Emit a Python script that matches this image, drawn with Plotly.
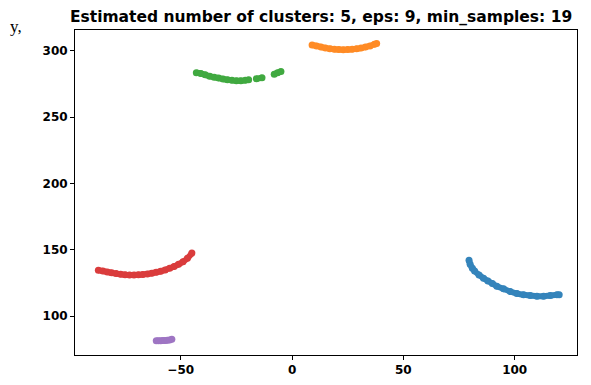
import plotly.graph_objects as go

# cluster 0 (blue)
blue_x = [79.5, 80, 81, 82, 84, 86, 88, 90, 92, 95, 98, 101, 104, 107, 110, 113, 116, 119, 120]
blue_y = [142, 139, 136, 134, 131, 128.5, 126.5, 124.5, 122.5, 120.5, 118.5, 117, 116, 115.5, 115, 115, 115.5, 116, 116]
# cluster 1 (orange)
orange_x = [9, 11, 13, 15, 17, 19, 21, 23, 25, 27, 29, 31, 33, 35, 37, 38]
orange_y = [304.5, 303.8, 303, 302.3, 301.7, 301.2, 301, 300.9, 301, 301.2, 301.6, 302.2, 303, 303.8, 305, 305.6]
# cluster 2 (green) — None marks gaps in the arc
green_x = [-43, -41, -39, -37, -35, -33, -31, -29, -27, -25, -23, -21, -19.5, None, -16, -13.5, None, -8, -6.5, -5]
green_y = [283.5, 283, 282, 281, 280.2, 279.5, 278.8, 278.2, 277.8, 277.6, 277.6, 277.8, 278.2, None, 279, 279.8, None, 282.5, 283.5, 284.5]
# cluster 3 (red)
red_x = [-87, -85, -83, -81, -79, -77, -75, -73, -71, -69, -67, -65, -63, -61, -59, -57, -55, -53, -51, -49, -47, -45]
red_y = [134.5, 134, 133.3, 132.6, 132, 131.5, 131.2, 131, 131, 131.1, 131.4, 131.8, 132.3, 133, 133.8, 134.8, 136, 137.4, 139, 141, 143.5, 147.5]
# cluster 4 (purple)
purple_x = [-61, -60, -59, -58, -57, -56, -55, -54]
purple_y = [81.3, 81.3, 81.4, 81.5, 81.6, 81.8, 82, 82.5]

x_ticks = [-50, 0, 50, 100]
x_labels = ["−50", "0", "50", "100"]
y_ticks = [100, 150, 200, 250, 300]

clusters = [
    (blue_x, blue_y, "#1f77b4"),
    (orange_x, orange_y, "#ff7f0e"),
    (green_x, green_y, "#2ca02c"),
    (red_x, red_y, "#d62728"),
    (purple_x, purple_y, "#9467bd"),
]

fig = go.Figure()
for xs, ys, c in clusters:
    fig.add_trace(go.Scatter(
        x=xs, y=ys, mode="lines+markers", connectgaps=False,
        line=dict(color=c, width=6, shape="spline"),
        marker=dict(color=c, size=7),
        opacity=0.9, showlegend=False, hoverinfo="skip"))

axis_common = dict(
    showgrid=False, zeroline=False, showline=True, linecolor="black", linewidth=1,
    mirror=True, ticks="outside", ticklen=4, tickcolor="black", tickwidth=1,
    automargin=False,
    tickfont=dict(family="DejaVu Sans", size=12, color="black", weight="bold"),
)
fig.update_xaxes(range=[-97.5, 128], tickvals=x_ticks, ticktext=x_labels, **axis_common)
fig.update_yaxes(range=[70.6, 315.8], tickvals=y_ticks, **axis_common)

# the page adds an 8px body margin, so the figure is 8px smaller in each direction
fig.update_layout(
    width=583, height=377,
    margin=dict(l=67, r=14, t=22, b=30),
    paper_bgcolor="white", plot_bgcolor="white",
    title=dict(text="Estimated number of clusters: 5, eps: 9, min_samples: 19",
               x=0.537, xanchor="center", y=0.977, yanchor="middle", automargin=False,
               font=dict(family="DejaVu Sans", size=15.5, color="black", weight="bold")),
    annotations=[dict(text="y,", xref="paper", yref="paper", x=-0.118, y=1.012,
                      xanchor="center", yanchor="middle", showarrow=False,
                      font=dict(family="Liberation Serif", size=17, color="black"))],
)

fig.write_html("out.html")
